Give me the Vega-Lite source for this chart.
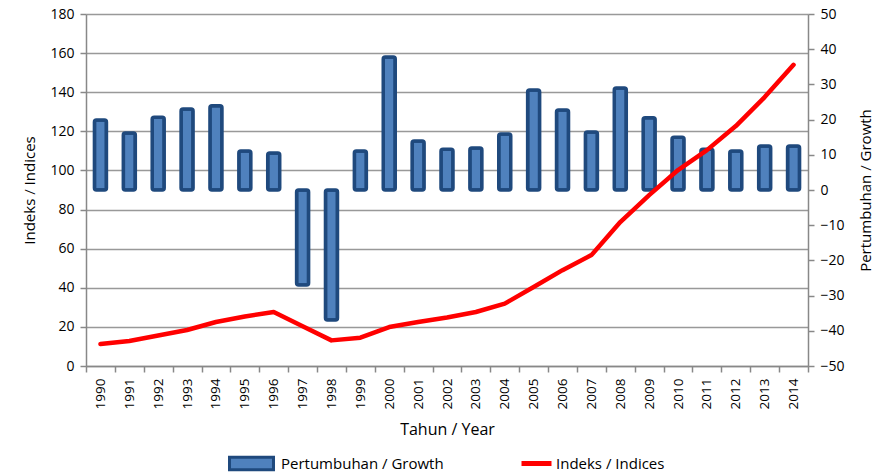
{
  "$schema": "https://vega.github.io/schema/vega-lite/v6.json",
  "width": 722,
  "height": 352,
  "autosize": {"type": "none"},
  "padding": {"left": 86, "top": 14, "right": 71, "bottom": 110},
  "config": {
    "font": "Open Sans",
    "view": {"stroke": null},
    "axis": {"labelColor": "#000", "titleColor": "#000", "labelFontSize": 13, "titleFontSize": 15, "titleFontWeight": "normal", "domainColor": "#888", "tickColor": "#888", "gridColor": "#999", "domainWidth": 1.5, "tickWidth": 1.5, "labelOverlap": false}
  },
  "data": {"values": [
    {"year": "1990", "growth": 19.9, "index": 11.2},
    {"year": "1991", "growth": 16.2, "index": 12.8},
    {"year": "1992", "growth": 20.7, "index": 15.6},
    {"year": "1993", "growth": 23.0, "index": 18.4},
    {"year": "1994", "growth": 23.9, "index": 22.5},
    {"year": "1995", "growth": 11.1, "index": 25.3},
    {"year": "1996", "growth": 10.5, "index": 27.6},
    {"year": "1997", "growth": -27.0, "index": 20.3},
    {"year": "1998", "growth": -36.9, "index": 13.1},
    {"year": "1999", "growth": 11.1, "index": 14.5},
    {"year": "2000", "growth": 37.8, "index": 19.9},
    {"year": "2001", "growth": 13.9, "index": 22.5},
    {"year": "2002", "growth": 11.6, "index": 24.8},
    {"year": "2003", "growth": 11.9, "index": 27.6},
    {"year": "2004", "growth": 15.9, "index": 31.9},
    {"year": "2005", "growth": 28.4, "index": 40.4},
    {"year": "2006", "growth": 22.7, "index": 49.0},
    {"year": "2007", "growth": 16.5, "index": 56.7},
    {"year": "2008", "growth": 29.0, "index": 73.6},
    {"year": "2009", "growth": 20.5, "index": 87.4},
    {"year": "2010", "growth": 15.0, "index": 100.2},
    {"year": "2011", "growth": 11.6, "index": 110.4},
    {"year": "2012", "growth": 11.1, "index": 122.7},
    {"year": "2013", "growth": 12.5, "index": 137.5},
    {"year": "2014", "growth": 12.5, "index": 154.0}
  ]},
  "encoding": {
    "x": {"field": "year", "type": "nominal", "sort": null,
      "scale": {"paddingInner": 0, "paddingOuter": 0},
      "axis": {"title": "Tahun / Year", "labelAngle": -90, "labelAlign": "right", "labelBaseline": "middle", "labelPadding": 6, "tickBand": "extent", "tickSize": 6, "titlePadding": 13, "titleFontSize": 16, "labelFontSize": 13.5}}
  },
  "layer": [
    {
      "mark": {"type": "bar", "size": 12, "stroke": "#1F497D", "strokeWidth": 3.5, "cornerRadius": 2},
      "encoding": {
        "y": {"field": "growth", "type": "quantitative",
          "scale": {"domain": [-50, 50], "nice": false},
          "axis": {"orient": "right", "title": "Pertumbuhan / Growth", "titleAngle": -90, "titleBaseline": "top", "values": [-50,-40,-30,-20,-10,0,10,20,30,40,50], "grid": false, "tickSize": 6, "labelPadding": 6, "titlePadding": 14, "labelFontSize": 14}},
        "fill": {"datum": "Pertumbuhan / Growth", "type": "nominal",
          "scale": {"range": ["#4F81BD"]},
          "legend": {"title": null, "orient": "none", "legendX": 150, "legendY": 434, "padding": 0, "symbolType": "M-1.6,-0.45H1.6V0.45H-1.6Z", "symbolSize": 756, "symbolStrokeColor": "#1F497D", "symbolStrokeWidth": 3, "labelFontSize": 15, "labelFont": "Open Sans", "labelLimit": 400, "labelOffset": 14, "symbolOpacity": 1}}
      }
    },
    {
      "mark": {"type": "line", "strokeWidth": 4.5, "strokeJoin": "round", "strokeCap": "round"},
      "encoding": {
        "y": {"field": "index", "type": "quantitative",
          "scale": {"domain": [0, 180], "nice": false},
          "axis": {"orient": "left", "title": "Indeks / Indices", "values": [0,20,40,60,80,100,120,140,160,180], "grid": true, "gridWidth": 1.5, "tickSize": 6, "labelPadding": 6, "titlePadding": 12, "labelFontSize": 14}},
        "stroke": {"datum": "Indeks / Indices", "type": "nominal",
          "scale": {"range": ["#FF0000"]},
          "legend": {"title": null, "orient": "none", "legendX": 433, "legendY": 432, "padding": 0, "symbolType": "stroke", "symbolSize": 900, "symbolStrokeWidth": 5, "labelFontSize": 15, "labelFont": "Open Sans", "labelLimit": 400, "labelOffset": 2}}
      }
    }
  ],
  "resolve": {"scale": {"y": "independent", "fill": "independent", "stroke": "independent"}}
}
